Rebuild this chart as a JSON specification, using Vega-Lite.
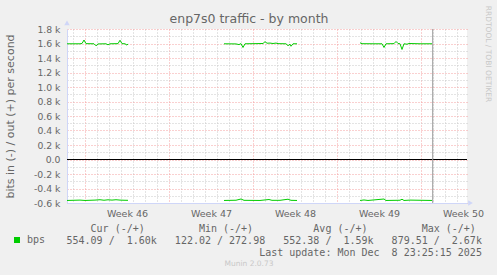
{
  "$schema": "https://vega.github.io/schema/vega-lite/v6.json",
  "autosize": "none",
  "width": 400,
  "height": 174,
  "padding": {"left": 67, "top": 29, "right": 30, "bottom": 72},
  "background": "#F0F0F0",
  "config": {
    "view": {"fill": "#FFFFFF", "stroke": null},
    "axis": {"labelFont": "DejaVu Sans", "titleFont": "DejaVu Sans", "titleFontWeight": "normal", "labelColor": "#666666", "titleColor": "#666666"}
  },
  "datasets": {
    "traffic": [
      {"t": 7.5, "v": 1596, "dir": "out", "seg": 1, "name": "bps"},
      {"t": 8.583, "v": 1596, "dir": "out", "seg": 1, "name": "bps"},
      {"t": 8.75, "v": 1600, "dir": "out", "seg": 1, "name": "bps"},
      {"t": 8.917, "v": 1648, "dir": "out", "seg": 1, "name": "bps"},
      {"t": 9.083, "v": 1598, "dir": "out", "seg": 1, "name": "bps"},
      {"t": 9.75, "v": 1596, "dir": "out", "seg": 1, "name": "bps"},
      {"t": 9.917, "v": 1568, "dir": "out", "seg": 1, "name": "bps"},
      {"t": 10.083, "v": 1594, "dir": "out", "seg": 1, "name": "bps"},
      {"t": 10.75, "v": 1596, "dir": "out", "seg": 1, "name": "bps"},
      {"t": 10.917, "v": 1582, "dir": "out", "seg": 1, "name": "bps"},
      {"t": 11.083, "v": 1596, "dir": "out", "seg": 1, "name": "bps"},
      {"t": 11.75, "v": 1598, "dir": "out", "seg": 1, "name": "bps"},
      {"t": 11.917, "v": 1645, "dir": "out", "seg": 1, "name": "bps"},
      {"t": 12.083, "v": 1598, "dir": "out", "seg": 1, "name": "bps"},
      {"t": 12.333, "v": 1596, "dir": "out", "seg": 1, "name": "bps"},
      {"t": 12.5, "v": 1578, "dir": "out", "seg": 1, "name": "bps"},
      {"t": 12.583, "v": 1594, "dir": "out", "seg": 1, "name": "bps"},
      {"t": 20.583, "v": 1596, "dir": "out", "seg": 2, "name": "bps"},
      {"t": 21.583, "v": 1594, "dir": "out", "seg": 2, "name": "bps"},
      {"t": 21.833, "v": 1585, "dir": "out", "seg": 2, "name": "bps"},
      {"t": 22.0, "v": 1598, "dir": "out", "seg": 2, "name": "bps"},
      {"t": 22.167, "v": 1545, "dir": "out", "seg": 2, "name": "bps"},
      {"t": 22.333, "v": 1596, "dir": "out", "seg": 2, "name": "bps"},
      {"t": 23.167, "v": 1598, "dir": "out", "seg": 2, "name": "bps"},
      {"t": 23.833, "v": 1600, "dir": "out", "seg": 2, "name": "bps"},
      {"t": 24.0, "v": 1625, "dir": "out", "seg": 2, "name": "bps"},
      {"t": 24.167, "v": 1604, "dir": "out", "seg": 2, "name": "bps"},
      {"t": 24.417, "v": 1606, "dir": "out", "seg": 2, "name": "bps"},
      {"t": 24.667, "v": 1600, "dir": "out", "seg": 2, "name": "bps"},
      {"t": 24.917, "v": 1606, "dir": "out", "seg": 2, "name": "bps"},
      {"t": 25.083, "v": 1598, "dir": "out", "seg": 2, "name": "bps"},
      {"t": 25.75, "v": 1596, "dir": "out", "seg": 2, "name": "bps"},
      {"t": 25.917, "v": 1570, "dir": "out", "seg": 2, "name": "bps"},
      {"t": 26.083, "v": 1590, "dir": "out", "seg": 2, "name": "bps"},
      {"t": 26.167, "v": 1562, "dir": "out", "seg": 2, "name": "bps"},
      {"t": 26.333, "v": 1596, "dir": "out", "seg": 2, "name": "bps"},
      {"t": 26.667, "v": 1596, "dir": "out", "seg": 2, "name": "bps"},
      {"t": 31.917, "v": 1610, "dir": "out", "seg": 3, "name": "bps"},
      {"t": 32.083, "v": 1597, "dir": "out", "seg": 3, "name": "bps"},
      {"t": 33.083, "v": 1596, "dir": "out", "seg": 3, "name": "bps"},
      {"t": 33.75, "v": 1596, "dir": "out", "seg": 3, "name": "bps"},
      {"t": 33.917, "v": 1545, "dir": "out", "seg": 3, "name": "bps"},
      {"t": 34.083, "v": 1596, "dir": "out", "seg": 3, "name": "bps"},
      {"t": 34.75, "v": 1598, "dir": "out", "seg": 3, "name": "bps"},
      {"t": 34.917, "v": 1628, "dir": "out", "seg": 3, "name": "bps"},
      {"t": 35.083, "v": 1600, "dir": "out", "seg": 3, "name": "bps"},
      {"t": 35.25, "v": 1596, "dir": "out", "seg": 3, "name": "bps"},
      {"t": 35.417, "v": 1518, "dir": "out", "seg": 3, "name": "bps"},
      {"t": 35.583, "v": 1596, "dir": "out", "seg": 3, "name": "bps"},
      {"t": 35.833, "v": 1590, "dir": "out", "seg": 3, "name": "bps"},
      {"t": 36.0, "v": 1600, "dir": "out", "seg": 3, "name": "bps"},
      {"t": 36.917, "v": 1596, "dir": "out", "seg": 3, "name": "bps"},
      {"t": 37.917, "v": 1596, "dir": "out", "seg": 3, "name": "bps"},
      {"t": 7.5, "v": -565, "dir": "in", "seg": 1, "name": "bps"},
      {"t": 8.583, "v": -560, "dir": "in", "seg": 1, "name": "bps"},
      {"t": 9.0, "v": -565, "dir": "in", "seg": 1, "name": "bps"},
      {"t": 9.833, "v": -560, "dir": "in", "seg": 1, "name": "bps"},
      {"t": 10.25, "v": -555, "dir": "in", "seg": 1, "name": "bps"},
      {"t": 10.583, "v": -562, "dir": "in", "seg": 1, "name": "bps"},
      {"t": 10.917, "v": -556, "dir": "in", "seg": 1, "name": "bps"},
      {"t": 11.25, "v": -560, "dir": "in", "seg": 1, "name": "bps"},
      {"t": 11.583, "v": -555, "dir": "in", "seg": 1, "name": "bps"},
      {"t": 11.917, "v": -560, "dir": "in", "seg": 1, "name": "bps"},
      {"t": 12.25, "v": -562, "dir": "in", "seg": 1, "name": "bps"},
      {"t": 12.583, "v": -563, "dir": "in", "seg": 1, "name": "bps"},
      {"t": 20.583, "v": -565, "dir": "in", "seg": 2, "name": "bps"},
      {"t": 21.583, "v": -562, "dir": "in", "seg": 2, "name": "bps"},
      {"t": 22.0, "v": -545, "dir": "in", "seg": 2, "name": "bps"},
      {"t": 22.25, "v": -563, "dir": "in", "seg": 2, "name": "bps"},
      {"t": 23.583, "v": -565, "dir": "in", "seg": 2, "name": "bps"},
      {"t": 24.333, "v": -552, "dir": "in", "seg": 2, "name": "bps"},
      {"t": 24.583, "v": -563, "dir": "in", "seg": 2, "name": "bps"},
      {"t": 25.25, "v": -563, "dir": "in", "seg": 2, "name": "bps"},
      {"t": 25.917, "v": -548, "dir": "in", "seg": 2, "name": "bps"},
      {"t": 26.167, "v": -563, "dir": "in", "seg": 2, "name": "bps"},
      {"t": 26.667, "v": -565, "dir": "in", "seg": 2, "name": "bps"},
      {"t": 31.917, "v": -565, "dir": "in", "seg": 3, "name": "bps"},
      {"t": 32.25, "v": -558, "dir": "in", "seg": 3, "name": "bps"},
      {"t": 32.583, "v": -565, "dir": "in", "seg": 3, "name": "bps"},
      {"t": 33.917, "v": -545, "dir": "in", "seg": 3, "name": "bps"},
      {"t": 34.083, "v": -565, "dir": "in", "seg": 3, "name": "bps"},
      {"t": 35.25, "v": -562, "dir": "in", "seg": 3, "name": "bps"},
      {"t": 35.417, "v": -548, "dir": "in", "seg": 3, "name": "bps"},
      {"t": 35.583, "v": -565, "dir": "in", "seg": 3, "name": "bps"},
      {"t": 36.083, "v": -560, "dir": "in", "seg": 3, "name": "bps"},
      {"t": 37.917, "v": -565, "dir": "in", "seg": 3, "name": "bps"}
    ]
  },
  "resolve": {"axis": {"x": "independent", "y": "independent"}},
  "layer": [
    {
      "data": {"name": "traffic"},
      "mark": {"type": "line", "strokeWidth": 1, "interpolate": "linear"},
      "encoding": {
        "x": {
          "field": "t", "type": "quantitative",
          "scale": {"domain": [7.5, 40.8333], "nice": false, "zero": false},
          "axis": {
            "values": [9, 16, 23, 30, 37],
            "labelExpr": "'Week ' + round(46 + (datum.value - 9) / 7)",
            "labelOffset": 42,
            "labelFontSize": 9.5,
            "labelPadding": 5.5,
            "labelFlush": false,
            "labelOverlap": false,
            "labelBound": false,
            "ticks": false,
            "tickSize": 0,
            "grid": true,
            "gridColor": "#F4A0A0",
            "gridDash": [1, 2],
            "gridWidth": 1,
            "domain": true,
            "domainColor": "#CFD6F8",
            "domainWidth": 1,
            "title": [
              "\u200b\u00a0\u00a0\u00a0\u00a0Cur\u00a0(-/+)\u00a0\u00a0\u00a0\u00a0\u00a0\u00a0\u00a0\u00a0\u00a0Min\u00a0(-/+)\u00a0\u00a0\u00a0\u00a0\u00a0\u00a0\u00a0\u00a0\u00a0\u00a0Avg\u00a0(-/+)\u00a0\u00a0\u00a0\u00a0\u00a0\u00a0\u00a0\u00a0\u00a0Max\u00a0(-/+)",
              "554.09\u00a0/\u00a0\u00a01.60k\u00a0\u00a0\u00a0122.02\u00a0/\u00a0272.98\u00a0\u00a0\u00a0552.38\u00a0/\u00a0\u00a01.59k\u00a0\u00a0\u00a0879.51\u00a0/\u00a0\u00a02.67k",
              "\u200b\u00a0\u00a0\u00a0\u00a0\u00a0\u00a0\u00a0\u00a0\u00a0\u00a0\u00a0\u00a0\u00a0\u00a0\u00a0\u00a0\u00a0\u00a0\u00a0\u00a0\u00a0\u00a0\u00a0\u00a0\u00a0\u00a0\u00a0\u00a0\u00a0\u00a0\u00a0\u00a0Last\u00a0update:\u00a0Mon\u00a0Dec\u00a0\u00a08\u00a023:25:15\u00a02025"
            ],
            "titleFont": "DejaVu Sans Mono",
            "titleFontSize": 10,
            "titleLineHeight": 12,
            "titleAlign": "left",
            "titleAnchor": "start",
            "titleBaseline": "alphabetic",
            "titleX": -1,
            "titleY": 28
          }
        },
        "y": {
          "field": "v", "type": "quantitative",
          "scale": {"domain": [-600, 1800], "nice": false, "zero": false},
          "axis": {
            "values": [-600, -400, -200, 0, 200, 400, 600, 800, 1000, 1200, 1400, 1600, 1800],
            "labelExpr": "datum.value == 0 ? '0.0' : (datum.value < 0 ? '-' : '') + format(abs(datum.value) / 1000, '.1f') + ' k'",
            "labelFontSize": 9.3,
            "labelPadding": 7,
            "ticks": false,
            "tickSize": 0,
            "grid": true,
            "gridColor": "#F4A0A0",
            "gridDash": [1, 2],
            "gridWidth": 1,
            "domain": true,
            "domainColor": "#CFD6F8",
            "title": "bits in (-) / out (+) per second",
            "titleFontSize": 11,
            "titleAngle": -90,
            "titleAlign": "center",
            "titleBaseline": "alphabetic",
            "titleX": -54,
            "titleY": 87
          }
        },
        "detail": [{"field": "dir"}, {"field": "seg"}],
        "color": {
          "field": "name", "type": "nominal",
          "scale": {"domain": ["bps"], "range": ["#00CC00"]},
          "legend": {
            "orient": "none",
            "legendX": -55,
            "legendY": 206,
            "title": null,
            "padding": 0,
            "symbolType": "square",
            "symbolSize": 36,
            "symbolFillColor": "#00CC00",
            "symbolStrokeColor": "#00CC00",
            "symbolStrokeWidth": 0,
            "symbolOffset": 0,
            "labelOffset": 5,
            "labelFont": "DejaVu Sans Mono",
            "labelFontSize": 10,
            "labelColor": "#666666"
          }
        }
      }
    },
    {
      "data": {"values": [{"v": 0}]},
      "mark": {"type": "rule", "color": "#000000", "strokeWidth": 1},
      "encoding": {
        "y": {
          "field": "v", "type": "quantitative",
          "scale": {"domain": [-600, 1800], "nice": false, "zero": false},
          "axis": {
            "orient": "right",
            "values": [-500, -300, -100, 100, 300, 500, 700, 900, 1100, 1300, 1500, 1700],
            "labels": false,
            "ticks": false,
            "domain": false,
            "grid": true,
            "gridColor": "#C8C8C8",
            "gridDash": [1, 2],
            "gridWidth": 1,
            "title": "RRDTOOL / TOBI OETIKER",
            "titleColor": "#C8C8C8",
            "titleFontSize": 7.5,
            "titleAngle": 90,
            "titleAlign": "center",
            "titleBaseline": "alphabetic",
            "titleX": 18,
            "titleY": 24.5
          }
        }
      }
    },
    {
      "data": {"values": [{"t": 37.976}]},
      "mark": {"type": "rule", "color": "#999999", "strokeWidth": 1},
      "encoding": {
        "x": {
          "field": "t", "type": "quantitative",
          "scale": {"domain": [7.5, 40.8333], "nice": false, "zero": false},
          "axis": {
            "orient": "top",
            "values": [8, 10, 11, 12, 13, 14, 15, 17, 18, 19, 20, 21, 22, 24, 25, 26, 27, 28, 29, 31, 32, 33, 34, 35, 36, 38, 39, 40],
            "labels": false,
            "ticks": false,
            "domain": false,
            "grid": true,
            "gridColor": "#C8C8C8",
            "gridDash": [1, 2],
            "gridWidth": 1,
            "title": "enp7s0 traffic - by month",
            "titleFontSize": 12.5,
            "titleAlign": "center",
            "titleBaseline": "alphabetic",
            "titleX": 181.5,
            "titleY": -7
          }
        }
      }
    },
    {
      "data": {"values": [{}]},
      "mark": {"type": "point", "shape": "triangle-right", "filled": true, "size": 30, "color": "#CFD6F8", "opacity": 1},
      "encoding": {
        "x": {
          "datum": 41.125, "type": "quantitative",
          "scale": {"domain": [7.5, 40.8333], "nice": false, "zero": false},
          "axis": {
            "labels": false,
            "ticks": false,
            "domain": false,
            "grid": false,
            "title": "Munin 2.0.73",
            "titleColor": "#C8C8C8",
            "titleFontSize": 7.5,
            "titleAlign": "center",
            "titleBaseline": "middle",
            "titleX": 181.5,
            "titleY": 60
          }
        },
        "y": {
          "datum": -600, "type": "quantitative",
          "scale": {"domain": [-600, 1800], "nice": false, "zero": false},
          "axis": null
        }
      }
    },
    {
      "data": {"values": [{}]},
      "mark": {"type": "point", "shape": "triangle-up", "filled": true, "size": 30, "color": "#CFD6F8", "opacity": 1},
      "encoding": {
        "x": {
          "datum": 7.5, "type": "quantitative",
          "scale": {"domain": [7.5, 40.8333], "nice": false, "zero": false},
          "axis": null
        },
        "y": {
          "datum": 1883, "type": "quantitative",
          "scale": {"domain": [-600, 1800], "nice": false, "zero": false},
          "axis": null
        }
      }
    }
  ]
}
